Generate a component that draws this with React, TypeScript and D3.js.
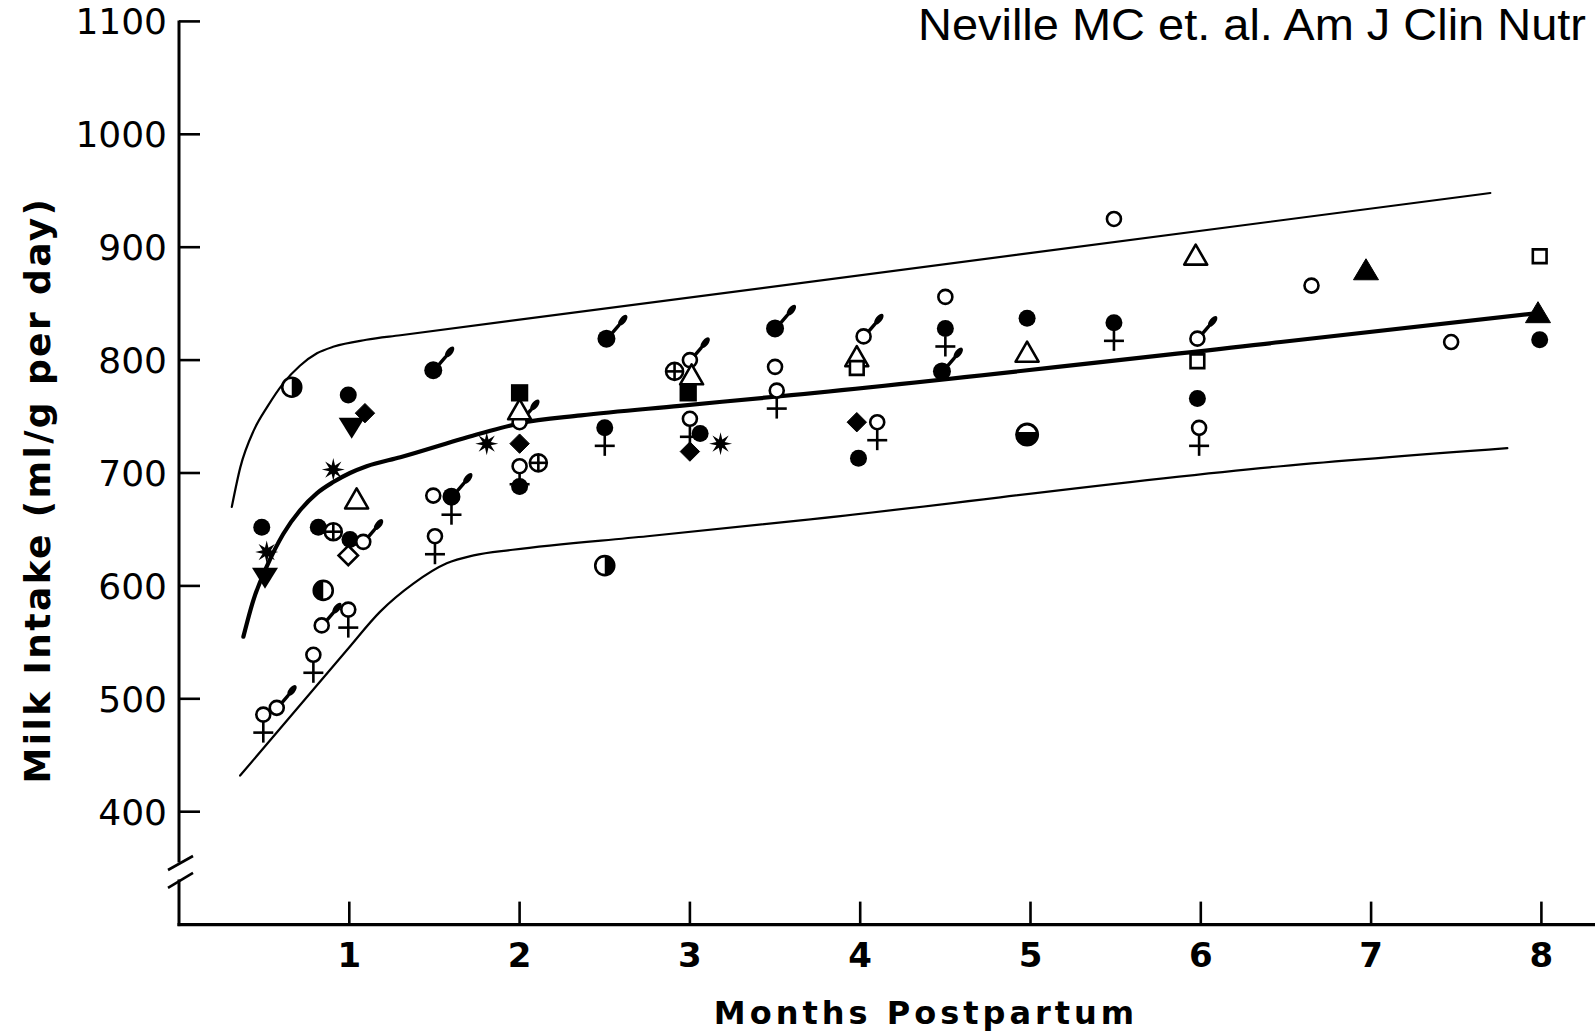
import React from 'react';
import * as d3 from 'd3';

// ---------- axes ----------
const xTicks = [1, 2, 3, 4, 5, 6, 7, 8];
const yTicks = [400, 500, 600, 700, 800, 900, 1000, 1100];

// ---------- curves (months, ml/g per day) ----------
const upperCurve: [number, number][] = [
  [0.31, 670], [0.36, 705], [0.44, 738], [0.52, 759], [0.61, 779], [0.71, 795],
  [0.81, 806], [0.91, 812], [1.1, 818], [1.3, 822], [7.7, 948],
];
const meanCurve: [number, number][] = [
  [0.378, 555], [0.436, 587], [0.515, 617], [0.612, 646], [0.711, 667], [0.809, 682],
  [0.906, 692], [1.004, 700], [1.102, 706], [1.3, 714], [1.77, 735], [2.0, 744],
  [2.36, 751], [2.94, 759.5], [3.53, 768], [6.47, 816], [8.0, 842],
];
const lowerCurve: [number, number][] = [
  [0.359, 432], [0.985, 543], [1.18, 577], [1.376, 602], [1.572, 620], [1.73, 627],
  [1.96, 632], [2.75, 644], [3.65, 658], [6.47, 706], [7.8, 722],
];

// ---------- data points by symbol ----------
const filledCircle: [number, number][] = [
  [0.486, 652], [0.818, 652], [0.994, 769], [1.004, 641], [2.0, 688], [3.06, 735],
  [3.99, 713], [4.98, 837], [5.98, 766], [7.99, 818],
];
const openCircle: [number, number][] = [
  [1.493, 680], [3.5, 794], [4.5, 856], [5.49, 925], [6.65, 866], [7.47, 816],
];
const maleFilled: [number, number][] = [
  [1.493, 791], [1.6, 679], [2.51, 819], [3.5, 828], [4.48, 790],
];
const maleOpen: [number, number][] = [
  [0.574, 492], [0.838, 565], [1.082, 639], [2.0, 745], [3.0, 800], [4.02, 821], [5.98, 819],
];
const femaleOpen: [number, number][] = [
  [0.495, 486], [0.789, 539], [0.994, 579], [1.503, 644], [2.0, 706], [3.0, 748],
  [3.51, 773], [4.1, 745], [5.99, 740],
];
const femaleFilled: [number, number][] = [
  [1.6, 679], [2.5, 740], [4.5, 828], [5.49, 833],
];
const halfRight: [number, number][] = [[0.662, 776], [2.5, 618]];
const halfLeft: [number, number][] = [[0.847, 596]];
const halfBottom: [number, number][] = [[4.98, 734]];
const diamondFilled: [number, number][] = [[1.092, 753], [2.0, 726], [3.0, 719], [3.98, 745]];
const diamondOpen: [number, number][] = [[0.994, 627]];
const triangleDown: [number, number][] = [[0.505, 608], [1.014, 741]];
const triangleOpen: [number, number][] = [
  [1.043, 677], [2.0, 756], [3.01, 787], [3.98, 803], [4.98, 807], [5.97, 893],
];
const triangleFilled: [number, number][] = [[6.97, 880], [7.98, 842]];
const squareOpen: [number, number][] = [[3.98, 793], [5.98, 799], [7.99, 892]];
const squareFilled: [number, number][] = [[2.0, 771], [2.99, 771]];
const crossCircle: [number, number][] = [[0.906, 648], [2.11, 709], [2.91, 790]];
const asterisk: [number, number][] = [[0.515, 630], [0.906, 703], [1.807, 726], [3.18, 726]];

// ---------- scales ----------
const W = 1595;
const H = 1033;
const x = d3.scaleLinear().domain([0, 8]).range([179, 1541.4]);
const y = d3.scaleLinear().domain([300, 1100]).range([924.6, 21.4]);

const line = d3
  .line<[number, number]>()
  .x((d) => x(d[0]))
  .y((d) => y(d[1]))
  .curve(d3.curveMonotoneX);

const SW = 2.6;
const INK = '#000';

const starPath = (() => {
  const pts = d3.range(16).map((i) => {
    const a = (i * Math.PI) / 8 - Math.PI / 2;
    const r = i % 2 === 0 ? 11.5 : 4.5;
    return [Math.cos(a) * r, Math.sin(a) * r] as [number, number];
  });
  return d3.line()(pts) + 'Z';
})();

const diamondPath = d3.symbol(d3.symbolDiamond2, 240)();
const squarePathOpen = d3.symbol(d3.symbolSquare2, 240)();
const squarePathFilled = d3.symbol(d3.symbolSquare, 300)();

function Tail({ r }: { r: number }) {
  const sx = r * 0.7;
  const sy = -r * 0.7;
  const ex = sx + 10;
  const ey = sy - 12;
  return (
    <g>
      <line x1={sx} y1={sy} x2={sx + 6} y2={sy - 7} stroke={INK} strokeWidth={3.4} strokeLinecap="round" />
      <ellipse cx={ex} cy={ey} rx={6.5} ry={3.2} fill={INK} transform={`rotate(-52 ${ex} ${ey})`} />
    </g>
  );
}

function FemaleCross({ r }: { r: number }) {
  return (
    <g stroke={INK} strokeWidth={SW}>
      <line x1={0} y1={r} x2={0} y2={28} />
      <line x1={-10} y1={18} x2={10} y2={18} />
    </g>
  );
}

type Kind =
  | 'filled' | 'open' | 'maleFilled' | 'maleOpen' | 'femaleOpen' | 'femaleFilled'
  | 'halfRight' | 'halfLeft' | 'halfBottom' | 'diamondFilled' | 'diamondOpen'
  | 'triDown' | 'triOpen' | 'triFilled' | 'squareOpen' | 'squareFilled'
  | 'crossCircle' | 'asterisk';

function Glyph({ kind }: { kind: Kind }) {
  switch (kind) {
    case 'filled':
      return <circle r={8.5} fill={INK} />;
    case 'open':
      return <circle r={7} fill="#fff" stroke={INK} strokeWidth={SW} />;
    case 'maleFilled':
      return (
        <g>
          <circle r={9} fill={INK} />
          <Tail r={9} />
        </g>
      );
    case 'maleOpen':
      return (
        <g>
          <circle r={7} fill="#fff" stroke={INK} strokeWidth={SW} />
          <Tail r={7.5} />
        </g>
      );
    case 'femaleOpen':
      return (
        <g>
          <FemaleCross r={7} />
          <circle r={7} fill="#fff" stroke={INK} strokeWidth={SW} />
        </g>
      );
    case 'femaleFilled':
      return (
        <g>
          <FemaleCross r={8} />
          <circle r={8.5} fill={INK} />
        </g>
      );
    case 'halfRight': {
      const r = 9.5;
      return (
        <g>
          <circle r={r} fill="#fff" stroke={INK} strokeWidth={SW} />
          <path d={`M0,${-r}A${r},${r} 0 0 1 0,${r}Z`} fill={INK} />
        </g>
      );
    }
    case 'halfLeft': {
      const r = 9.5;
      return (
        <g>
          <circle r={r} fill="#fff" stroke={INK} strokeWidth={SW} />
          <path d={`M0,${-r}A${r},${r} 0 0 0 0,${r}Z`} fill={INK} />
        </g>
      );
    }
    case 'halfBottom': {
      const r = 10.5;
      const h = -2.5;
      const a = Math.sqrt(r * r - h * h);
      return (
        <g>
          <circle r={r} fill="#fff" stroke={INK} strokeWidth={SW + 0.4} />
          <path d={`M${-a},${h}A${r},${r} 0 1 0 ${a},${h}Z`} fill={INK} />
        </g>
      );
    }
    case 'diamondFilled':
      return <path d={diamondPath || ''} fill={INK} stroke={INK} strokeWidth={1} />;
    case 'diamondOpen':
      return <path d={diamondPath || ''} fill="#fff" stroke={INK} strokeWidth={SW} />;
    case 'triDown':
      return <path d="M-13,-9L13,-9L0,12Z" fill={INK} />;
    case 'triOpen':
      return <path d="M0,-10.5L11.5,9.5L-11.5,9.5Z" fill="#fff" stroke={INK} strokeWidth={SW} strokeLinejoin="round" />;
    case 'triFilled':
      return <path d="M0,-11L12.5,10L-12.5,10Z" fill={INK} stroke={INK} strokeWidth={1} strokeLinejoin="round" />;
    case 'squareOpen':
      return <path d={squarePathOpen || ''} fill="#fff" stroke={INK} strokeWidth={SW} />;
    case 'squareFilled':
      return <path d={squarePathFilled || ''} fill={INK} />;
    case 'crossCircle':
      return (
        <g stroke={INK} strokeWidth={SW}>
          <circle r={8.5} fill="#fff" />
          <line x1={-8.5} y1={0} x2={8.5} y2={0} />
          <line x1={0} y1={-8.5} x2={0} y2={8.5} />
        </g>
      );
    case 'asterisk':
      return <path d={starPath} fill={INK} />;
    default:
      return null;
  }
}

const layers: { kind: Kind; data: [number, number][] }[] = [
  { kind: 'asterisk', data: asterisk },
  { kind: 'femaleFilled', data: femaleFilled },
  { kind: 'maleFilled', data: maleFilled },
  { kind: 'filled', data: filledCircle },
  { kind: 'diamondFilled', data: diamondFilled },
  { kind: 'triDown', data: triangleDown },
  { kind: 'triFilled', data: triangleFilled },
  { kind: 'squareFilled', data: squareFilled },
  { kind: 'femaleOpen', data: femaleOpen },
  { kind: 'maleOpen', data: maleOpen },
  { kind: 'open', data: openCircle },
  { kind: 'triOpen', data: triangleOpen },
  { kind: 'squareOpen', data: squareOpen },
  { kind: 'diamondOpen', data: diamondOpen },
  { kind: 'crossCircle', data: crossCircle },
  { kind: 'halfRight', data: halfRight },
  { kind: 'halfLeft', data: halfLeft },
  { kind: 'halfBottom', data: halfBottom },
];

export default function App() {
  const axisX = x(0);
  const axisY = y(300);
  const breakTop = y(355);
  const breakBottom = y(340);
  const tickFont = '"DejaVu Sans", sans-serif';
  return (
    <svg
      width={W}
      height={H}
      viewBox={`0 0 ${W} ${H}`}
      style={{ position: 'absolute', left: 0, top: 0, display: 'block', background: '#fff' }}
    >
      <rect x={0} y={0} width={W} height={H} fill="#fff" />

      {/* citation */}
      <text
        x={918}
        y={40}
        fontFamily='"Liberation Sans", Arial, sans-serif'
        fontSize={44}
        textLength={668}
        lengthAdjust="spacingAndGlyphs"
        fill="#000"
      >
        Neville MC et. al. Am J Clin Nutr
      </text>

      {/* y axis with break */}
      <g stroke={INK} strokeWidth={3} fill="none" strokeLinecap="butt">
        <line x1={axisX} y1={y(1100) - 1} x2={axisX} y2={breakTop} />
        <line x1={axisX} y1={breakBottom} x2={axisX} y2={axisY + 1.5} />
        <line x1={168} y1={breakTop + 7.5} x2={193} y2={breakTop - 6.5} strokeWidth={2.6} />
        <line x1={168} y1={breakBottom + 8.5} x2={193} y2={breakBottom - 6.5} strokeWidth={2.6} />
        <line x1={axisX - 1.5} y1={axisY} x2={W} y2={axisY} strokeWidth={3.4} />
        {yTicks.map((t) => (
          <line key={t} x1={axisX} y1={y(t)} x2={axisX + 21} y2={y(t)} strokeWidth={2.6} />
        ))}
        {xTicks.map((t) => (
          <line key={t} x1={x(t)} y1={axisY} x2={x(t)} y2={axisY - 23} strokeWidth={2.6} />
        ))}
      </g>

      {/* y tick labels */}
      {yTicks.map((t) => (
        <text
          key={t}
          x={167}
          y={y(t) + 13}
          textAnchor="end"
          fontFamily={tickFont}
          fontSize={36}
          fill="#000"
        >
          {t}
        </text>
      ))}

      {/* x tick labels */}
      {xTicks.map((t) => (
        <text
          key={t}
          x={x(t)}
          y={967}
          textAnchor="middle"
          fontFamily={tickFont}
          fontWeight="bold"
          fontSize={34}
          fill="#000"
        >
          {t}
        </text>
      ))}

      {/* axis titles */}
      <text
        transform="translate(50,490) rotate(-90)"
        textAnchor="middle"
        fontFamily={tickFont}
        fontWeight="bold"
        fontSize={36}
        letterSpacing={2.4}
        fill="#000"
      >
        Milk Intake (ml/g per day)
      </text>
      <text
        x={926}
        y={1024}
        textAnchor="middle"
        fontFamily={tickFont}
        fontWeight="bold"
        fontSize={32}
        letterSpacing={4}
        fill="#000"
      >
        Months Postpartum
      </text>

      {/* curves */}
      <g fill="none" stroke={INK} strokeLinecap="round">
        <path d={line(upperCurve) || ''} strokeWidth={2.2} />
        <path d={line(lowerCurve) || ''} strokeWidth={2.2} />
        <path d={line(meanCurve) || ''} strokeWidth={4.2} />
      </g>

      {/* data points */}
      {layers.map((layer) => (
        <g key={layer.kind}>
          {layer.data.map((d, i) => (
            <g key={i} transform={`translate(${x(d[0])},${y(d[1])})`}>
              <Glyph kind={layer.kind} />
            </g>
          ))}
        </g>
      ))}
    </svg>
  );
}
